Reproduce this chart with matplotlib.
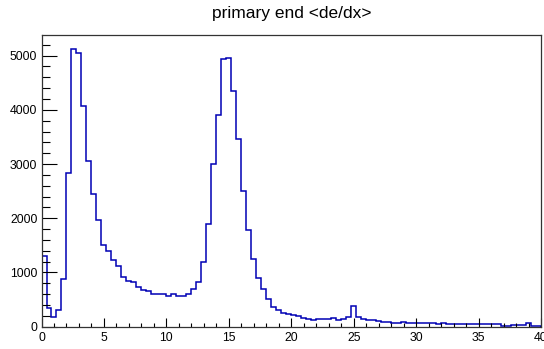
import numpy as np
import matplotlib
matplotlib.use("Agg")
import matplotlib.pyplot as plt
from matplotlib.ticker import MultipleLocator

plt.rcParams['font.family'] = ['Liberation Sans', 'DejaVu Sans']

title = "primary end <de/dx>"
x_low, x_high, n_bins = 0.0, 40.0, 100
counts = [
    1300, 350, 175, 310, 880, 2840, 5130, 5050, 4080, 3060,
    2440, 1960, 1510, 1390, 1230, 1120, 920, 850, 820, 730,
    680, 650, 610, 605, 605, 560, 600, 560, 560, 605,
    690, 820, 1185, 1900, 3010, 3900, 4930, 4960, 4350, 3470,
    2510, 1780, 1250, 890, 690, 505, 370, 300, 260, 235,
    215, 200, 160, 150, 125, 150, 140, 140, 155, 130,
    150, 175, 385, 175, 140, 125, 120, 110, 85, 80,
    75, 75, 90, 70, 68, 65, 60, 72, 60, 58,
    70, 55, 52, 52, 52, 52, 50, 52, 52, 50,
    50, 48, 22, 20, 35, 33, 35, 62, 20, 18,
]
y_ticks = [0, 1000, 2000, 3000, 4000, 5000]
x_ticks = [0, 5, 10, 15, 20, 25, 30, 35, 40]

edges = np.linspace(x_low, x_high, n_bins + 1)

fig = plt.figure(figsize=(5.44, 3.49), dpi=100)
ax = fig.add_axes([0.0763, 0.0639, 0.9182, 0.8367])
ax.stairs(counts, edges, color='#0000b4', linewidth=1.1, baseline=0)

ax.set_xlim(x_low, x_high)
ax.set_ylim(0, max(counts) * 1.05)
ax.set_xticks(x_ticks)
ax.set_yticks(y_ticks)
ax.xaxis.set_minor_locator(MultipleLocator(1))
ax.yaxis.set_minor_locator(MultipleLocator(200))
ax.tick_params(axis='y', which='major', direction='in', length=10.8, width=0.8, labelsize=8.8, pad=3)
ax.tick_params(axis='y', which='minor', direction='in', length=5.4, width=0.8)
ax.tick_params(axis='x', which='major', direction='in', length=6.3, width=0.8, labelsize=8.8, pad=3.5)
ax.tick_params(axis='x', which='minor', direction='in', length=3.2, width=0.8)
ax.tick_params(top=False, right=False, which='both')
for s in ax.spines.values():
    s.set_color('#333333')
    s.set_linewidth(0.9)

fig.text(0.536, 0.962, title, ha='center', va='center', fontsize=12.5)

fig.savefig('out.png', dpi=100)
